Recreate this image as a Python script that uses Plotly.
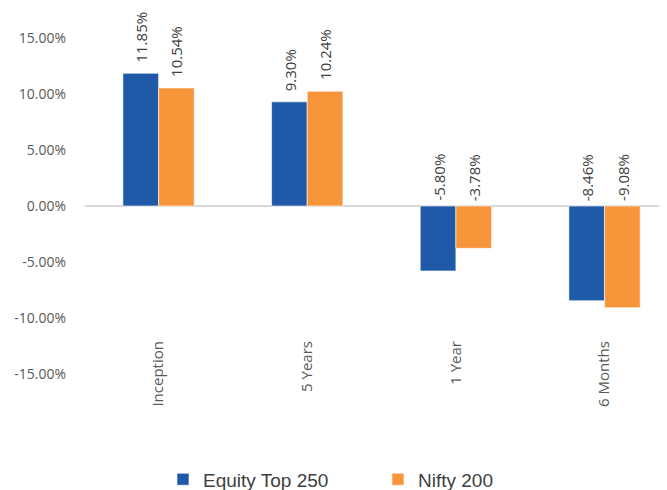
import plotly.graph_objects as go

categories = ["Inception", "5 Years", "1 Year", "6 Months"]
equity_top_250 = [11.85, 9.30, -5.80, -8.46]
nifty_200 = [10.54, 10.24, -3.78, -9.08]
series_names = ["Equity Top 250", "Nifty 200"]
colors = ["#1F5AA8", "#F7953A"]
ytick_vals = [15, 10, 5, 0, -5, -10, -15]
ytick_text = [f"{v:.2f}%" for v in ytick_vals]

fig = go.Figure()
for name, vals, col in zip(series_names, [equity_top_250, nifty_200], colors):
    fig.add_trace(go.Bar(
        x=list(range(len(categories))), y=vals, name=name,
        marker=dict(color=col, line=dict(color="rgba(255,255,255,0.6)", width=1)),
    ))

bar_off = 0.12
annotations = []
for si, vals in enumerate([equity_top_250, nifty_200]):
    off = -bar_off if si == 0 else bar_off
    for i, v in enumerate(vals):
        annotations.append(dict(
            x=i + off, y=max(v, 0), xref="x", yref="y",
            text=f"{v:.2f}%", showarrow=False, textangle=-90,
            xanchor="center", yanchor="bottom",
            yshift=9 if v > 0 else 3,
            font=dict(family="Open Sans", size=15, color="#404040"),
        ))

fig.update_layout(
    width=659, height=482,
    margin=dict(l=77, r=0, t=30, b=116, autoexpand=False),
    paper_bgcolor="white", plot_bgcolor="white",
    barmode="group", bargap=0.52, bargroupgap=0,
    showlegend=True,
    legend=dict(orientation="h", x=0.134, xanchor="left", y=0.022, yanchor="middle",
                yref="container",
                font=dict(family="Liberation Sans", size=19, color="#404040"),
                itemwidth=30, entrywidth=170, traceorder="normal"),
    annotations=annotations,
    xaxis=dict(
        range=[-0.495, 3.42], tickmode="array",
        tickvals=list(range(len(categories))), ticktext=categories,
        tickangle=-90, showgrid=False, showline=False, zeroline=False,
        anchor="free", position=0.11, ticks="",
        tickfont=dict(family="Open Sans", size=15, color="#595959"),
    ),
    yaxis=dict(
        range=[-15, 15], tickmode="array", tickvals=ytick_vals, ticktext=ytick_text,
        showgrid=False, showline=False, zeroline=True, zerolinecolor="#D9D9D9",
        zerolinewidth=2, ticks="", ticklabelstandoff=18,
        tickfont=dict(family="Open Sans", size=14, color="#595959"),
    ),
)

fig.write_html("out.html")
